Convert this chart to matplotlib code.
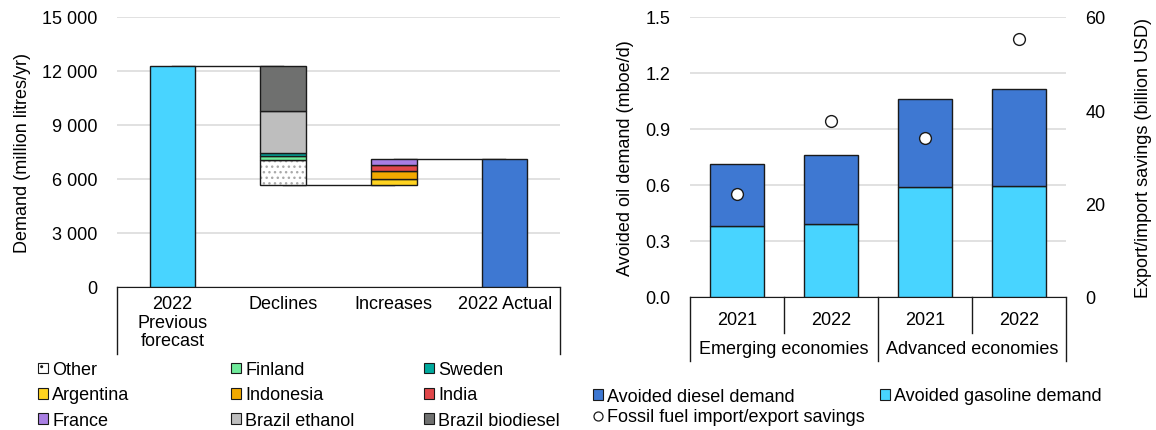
import numpy as np
import matplotlib
matplotlib.use("Agg")
import matplotlib.pyplot as plt
from matplotlib.patches import Patch
from matplotlib.lines import Line2D
from matplotlib.ticker import FuncFormatter

plt.rcParams['font.family'] = ['Liberation Sans', 'DejaVu Sans']
plt.rcParams['font.size'] = 13

# ---- left chart data (million litres/yr) ----
wf_cats = ['2022\nPrevious\nforecast', 'Declines', 'Increases', '2022 Actual']
previous_forecast = 12280
actual_2022 = 7110
decl_names = ['Other', 'Finland', 'Sweden', 'Brazil ethanol', 'Brazil biodiesel']
decl_vals = [1400, 220, 130, 2380, 2480]
incr_names = ['Argentina', 'Indonesia', 'India', 'France']
incr_vals = [330, 460, 330, 320]

# ---- right chart data ----
years = ['2021', '2022', '2021', '2022']
groups = ['Emerging economies', 'Advanced economies']
gasoline = [0.38, 0.39, 0.59, 0.595]
diesel = [0.335, 0.37, 0.47, 0.52]
savings = [22.0, 37.7, 34.0, 55.2]

colors = {
    'Other': 'white', 'Finland': '#6FEA9A', 'Sweden': '#00A99D',
    'Brazil ethanol': '#BEBEBE', 'Brazil biodiesel': '#6F706F',
    'Argentina': '#FFD320', 'Indonesia': '#F2A900', 'India': '#E0474A',
    'France': '#A97FE3',
}
light_blue = '#48D4FF'
dark_blue = '#3E78D2'
grid_col = '#DCDCDC'
edge = '#1A1A1A'

fig = plt.figure(figsize=(11.56, 4.31), dpi=100)

# ================= left: waterfall =================
ax = fig.add_axes([117/1156, 1-288/431, 443/1156, 270/431])
x = np.arange(len(wf_cats))
w = 0.41
ax.bar(x[0], previous_forecast, w, color=light_blue, edgecolor=edge, lw=1, zorder=3)
ax.bar(x[3], actual_2022, w, color=dark_blue, edgecolor=edge, lw=1, zorder=3)

decl_bottom = previous_forecast - sum(decl_vals)
b = decl_bottom
for name, v in zip(decl_names, decl_vals):
    if name == 'Other':
        ax.bar(x[1], v, w, bottom=b, color='white', edgecolor='#AAAAAA', lw=0,
               hatch='...', zorder=3)
        ax.bar(x[1], v, w, bottom=b, color='none', edgecolor=edge, lw=1, zorder=3)
    else:
        ax.bar(x[1], v, w, bottom=b, color=colors[name], edgecolor=edge, lw=1, zorder=3)
    b += v

b = decl_bottom
for name, v in zip(incr_names, incr_vals):
    ax.bar(x[2], v, w, bottom=b, color=colors[name], edgecolor=edge, lw=1, zorder=3)
    b += v
incr_top = b

# connectors
ax.plot([x[0], x[1]], [previous_forecast]*2, color=edge, lw=1, zorder=2)
ax.plot([x[1], x[2]], [decl_bottom]*2, color=edge, lw=1, zorder=2)
ax.plot([x[2], x[3]], [incr_top]*2, color=edge, lw=1, zorder=2)

ax.set_xlim(-0.5, 3.5)
ax.set_ylim(0, 15000)
ax.set_yticks(np.arange(0, 15001, 3000))
ax.yaxis.set_major_formatter(FuncFormatter(lambda v, p: f'{int(v):,}'.replace(',', ' ')))
ax.grid(axis='y', color=grid_col, lw=1.2, zorder=0)
ax.set_axisbelow(True)
for s in ['top', 'right', 'left']:
    ax.spines[s].set_visible(False)
ax.spines['bottom'].set_color(edge)
ax.tick_params(axis='y', length=0, pad=14)
ax.set_xticks(x)
ax.set_xticklabels(wf_cats, linespacing=1.1)
ax.tick_params(axis='x', length=0, pad=6)
ax.set_ylabel('Demand (million litres/yr)', labelpad=8)
for xe in [0, 1]:
    ax.plot([xe, xe], [0, -67/270], transform=ax.transAxes, color=edge, lw=1, clip_on=False)

def patch(n):
    if n == 'Other':
        return Patch(facecolor='white', edgecolor=edge, hatch='..', lw=0.8, label=n)
    return Patch(facecolor=colors[n], edgecolor=edge, lw=0.8, label=n)

leg_kw = dict(loc='center left', frameon=False, handlelength=0.55, handleheight=0.55,
              handletextpad=0.25, labelspacing=0.45, borderpad=0, borderaxespad=0)
leg_cols = [['Other', 'Argentina', 'France'],
            ['Finland', 'Indonesia', 'Brazil ethanol'],
            ['Sweden', 'India', 'Brazil biodiesel']]
for xpos, col in zip([38, 231, 424], leg_cols):
    fig.legend(handles=[patch(n) for n in col], bbox_to_anchor=(xpos/1156, 1-396/431), **leg_kw)

# ================= right: stacked bars =================
ax2 = fig.add_axes([690/1156, 1-298/431, 376/1156, 280/431])
xr = np.arange(len(years))
wr = 0.575
ax2.bar(xr, gasoline, wr, color=light_blue, edgecolor=edge, lw=1, zorder=3)
ax2.bar(xr, diesel, wr, bottom=gasoline, color=dark_blue, edgecolor=edge, lw=1, zorder=3)
ax2.set_xlim(-0.5, 3.5)
ax2.set_ylim(0, 1.5)
ax2.set_yticks(np.arange(0, 1.51, 0.3))
ax2.yaxis.set_major_formatter(FuncFormatter(lambda v, p: f'{v:.1f}'))
ax2.grid(axis='y', color=grid_col, lw=1.2, zorder=0)
ax2.set_axisbelow(True)
for s in ['top', 'right', 'left']:
    ax2.spines[s].set_visible(False)
ax2.spines['bottom'].set_color(edge)
ax2.tick_params(axis='y', length=0, pad=14)
ax2.set_xticks(xr)
ax2.set_xticklabels(years)
ax2.tick_params(axis='x', length=0, pad=10)
ax2.set_ylabel('Avoided oil demand (mboe/d)', labelpad=8)
xt = ax2.get_xaxis_transform()
for xe in [-0.5, 1.5, 3.5]:
    ax2.plot([xe, xe], [0, -64/280], transform=xt, color=edge, lw=1, clip_on=False)
for xe in [0.5, 2.5]:
    ax2.plot([xe, xe], [0, -36/280], transform=xt, color=edge, lw=1, clip_on=False)
for gi, g in enumerate(groups):
    ax2.text(gi*2 + 0.5, -52/280, g, transform=xt, ha='center', va='center')

ax3 = ax2.twinx()
ax3.plot(xr, savings, 'o', ms=8.5, mfc='white', mec=edge, mew=1, zorder=5)
ax3.set_ylim(0, 60)
ax3.set_yticks([0, 20, 40, 60])
for s in ['top', 'right', 'left', 'bottom']:
    ax3.spines[s].set_visible(False)
ax3.tick_params(axis='y', length=0, pad=14)
ax3.set_ylabel('Export/import savings (billion USD)', labelpad=21)

h_diesel = Patch(facecolor=dark_blue, edgecolor=edge, lw=0.8, label='Avoided diesel demand')
h_fossil = Line2D([], [], ls='none', marker='o', ms=6.5, mfc='white', mec=edge, mew=0.9,
                  label='Fossil fuel import/export savings')
h_gas = Patch(facecolor=light_blue, edgecolor=edge, lw=0.8, label='Avoided gasoline demand')
fig.legend(handles=[h_diesel, h_fossil], bbox_to_anchor=(593/1156, 1-407.5/431),
           **dict(leg_kw, labelspacing=0.22))
fig.legend(handles=[h_gas], bbox_to_anchor=(880/1156, 1-397/431), **leg_kw)

fig.savefig('out.png', dpi=100)
